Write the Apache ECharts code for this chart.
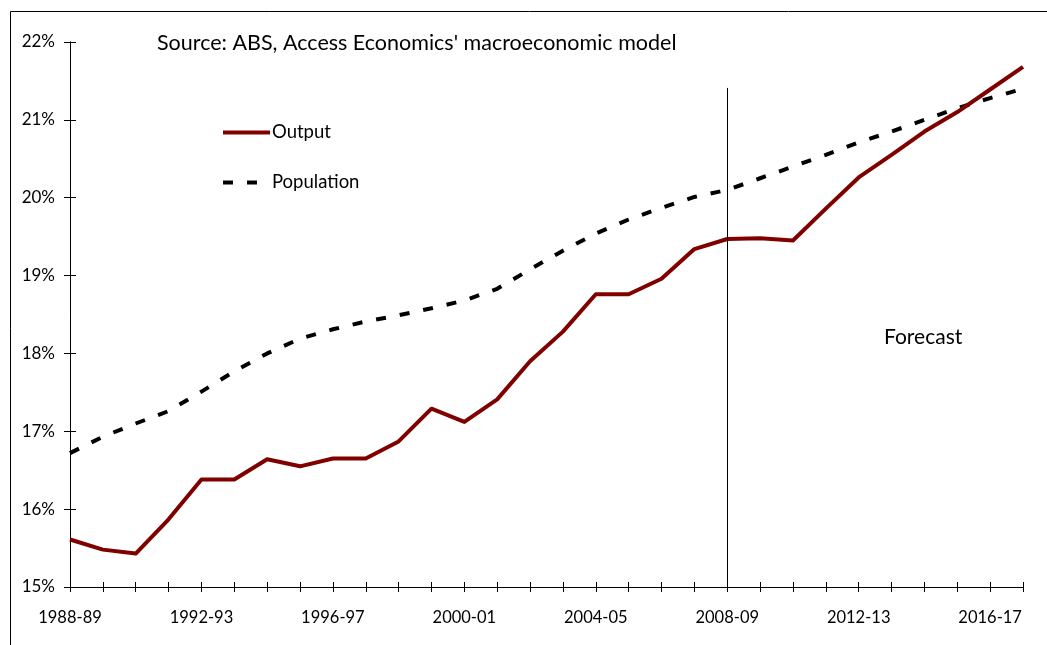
<!DOCTYPE html>
<html>
<head>
<meta charset="utf-8">
<script src="https://cdn.jsdelivr.net/npm/echarts@6/dist/echarts.min.js"></script>
<style>
  html, body { margin: 0; padding: 0; background: #fff; }
  #chart { width: 1047px; height: 645px; }
</style>
</head>
<body>
<div id="chart"></div>
<script>
const categories = [
  '1988-89', '1989-90', '1990-91', '1991-92', '1992-93', '1993-94', '1994-95', '1995-96',
  '1996-97', '1997-98', '1998-99', '1999-00', '2000-01', '2001-02', '2002-03', '2003-04',
  '2004-05', '2005-06', '2006-07', '2007-08', '2008-09', '2009-10', '2010-11', '2011-12',
  '2012-13', '2013-14', '2014-15', '2015-16', '2016-17', '2017-18',
]
const output = [
  15.61, 15.48, 15.43, 15.87, 16.38, 16.38, 16.64, 16.55, 16.65, 16.65,
  16.87, 17.29, 17.12, 17.41, 17.90, 18.28, 18.76, 18.76, 18.96, 19.34,
  19.47, 19.48, 19.45, 19.86, 20.26, 20.55, 20.85, 21.10, 21.39, 21.68,
]
const population = [
  16.72, 16.93, 17.10, 17.26, 17.51, 17.77, 18.00, 18.19, 18.31, 18.41,
  18.49, 18.58, 18.68, 18.83, 19.08, 19.32, 19.54, 19.72, 19.87, 20.01,
  20.10, 20.25, 20.40, 20.55, 20.71, 20.85, 21.00, 21.15, 21.28, 21.40,
]
const forecastStart = '2008-09'
const forecastTop = 21.41
const yMin = 15
const yMax = 22

const FONT = 'Lato, "Open Sans", sans-serif'
const chart = echarts.init(document.getElementById('chart'), null, { renderer: 'canvas' })

const baseX = {
  type: 'category',
  data: categories,
  boundaryGap: false,
  gridIndex: 0,
  position: 'bottom',
  axisLine: { show: true, onZero: false, lineStyle: { color: '#000', width: 1 } },
  splitLine: { show: false },
}
const baseY = {
  type: 'value',
  min: yMin,
  max: yMax,
  interval: 1,
  position: 'left',
  axisLine: { show: true, lineStyle: { color: '#000', width: 1 } },
  splitLine: { show: false },
}

chart.setOption({
  animation: false,
  backgroundColor: '#fff',
  textStyle: { fontFamily: FONT },
  title: {
    text: "Source: ABS, Access Economics' macroeconomic model",
    left: 157,
    top: 32,
    padding: 0,
    textStyle: { fontFamily: FONT, fontSize: 21.5, fontWeight: 'normal', color: '#000' },
  },
  legend: {
    orient: 'vertical',
    left: 221,
    top: 123,
    padding: 0,
    itemWidth: 47,
    itemHeight: 20,
    itemGap: 31,
    itemStyle: { opacity: 0 },
    lineStyle: { width: 4 },
    textStyle: { fontFamily: FONT, fontSize: 18.5, color: '#000', padding: [0, 0, 0, -3] },
    data: ['Output', 'Population'],
  },
  graphic: [
    {
      type: 'rect',
      left: 8,
      top: 9,
      shape: { width: 1200, height: 800 },
      style: { fill: 'none', stroke: '#000', lineWidth: 1 },
      silent: true,
    },
    {
      type: 'text',
      left: 884,
      top: 327,
      style: { text: 'Forecast', fontFamily: FONT, fontSize: 21, fill: '#000' },
    },
  ],
  grid: { left: 70, right: 24, top: 42, bottom: 58 },
  xAxis: [
    Object.assign({}, baseX, {
      axisTick: { show: true, interval: 0, length: 5, inside: false, lineStyle: { color: '#000' } },
      axisLabel: { interval: 3, margin: 22, color: '#000', fontSize: 16.5, fontFamily: FONT },
    }),
    Object.assign({}, baseX, {
      axisTick: { show: true, interval: 0, length: 5, inside: true, lineStyle: { color: '#000' } },
      axisLabel: { show: false },
    }),
  ],
  yAxis: [
    Object.assign({}, baseY, {
      axisTick: { show: true, length: 6, inside: false, lineStyle: { color: '#000' } },
      axisLabel: { margin: 15, color: '#000', fontSize: 17, fontFamily: FONT, formatter: v => v + '%' },
    }),
    Object.assign({}, baseY, {
      axisTick: { show: true, length: 6, inside: true, lineStyle: { color: '#000' } },
      axisLabel: { show: false },
    }),
  ],
  series: [
    {
      name: 'Output',
      type: 'line',
      data: output,
      showSymbol: false,
      symbol: 'none',
      lineStyle: { color: '#800000', width: 4, join: 'round' },
      itemStyle: { color: '#800000' },
      z: 3,
      markLine: {
        silent: true,
        symbol: 'none',
        label: { show: false },
        lineStyle: { color: '#000', width: 1, type: 'solid' },
        data: [[{ coord: [forecastStart, forecastTop] }, { coord: [forecastStart, yMin] }]],
      },
    },
    {
      name: 'Population',
      type: 'line',
      data: population,
      showSymbol: false,
      symbol: 'none',
      lineStyle: { color: '#000', width: 4, type: [10, 14], cap: 'butt' },
      itemStyle: { color: '#000' },
      z: 2,
    },
  ],
})
</script>
</body>
</html>
